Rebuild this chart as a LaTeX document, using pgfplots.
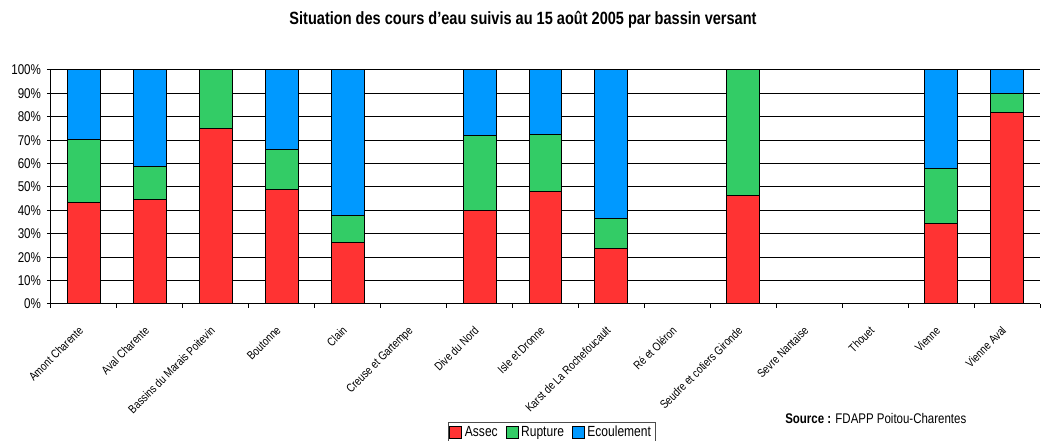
\documentclass[border=0pt]{standalone}
\usepackage{fontspec}
\setmainfont{Liberation Sans}[FakeStretch=0.82]
\usepackage{pgfplots}
\usepackage{pgfplotstable}
\pgfplotsset{compat=1.18}
\definecolor{assec}{RGB}{255,51,51}
\definecolor{rupture}{RGB}{51,204,102}
\definecolor{ecoul}{RGB}{0,153,255}
\pgfplotstableread{
x assec rupture ecoul
0 43.2 27.3 29.5
1 44.7 13.9 41.4
2 75.0 25.0 0
3 48.8 17.1 34.1
4 26.1 11.6 62.3
5 0 0 0
6 40.0 32.2 27.8
7 48.1 24.5 27.4
8 23.7 12.7 63.6
9 0 0 0
10 46.2 53.8 0
11 0 0 0
12 0 0 0
13 34.4 23.5 42.1
14 81.9 8.1 10.0
}\data
\begin{document}
\begin{tikzpicture}[x=1pt,y=1pt]
\begin{axis}[
  scale only axis, width=741.75pt, height=175.5pt,
  at={(0,0)}, anchor=south west,
  ybar stacked, bar width=0.5,
  xmin=-0.5, xmax=14.5, ymin=0, ymax=100,
  axis x line*=bottom, axis y line*=left,
  axis line style={-, black, line width=0.75pt},
  ytick={0,10,...,100},
  yticklabel={\pgfmathprintnumber{\tick}\%},
  /pgf/number format/assume math mode=true,
  yticklabel style={font=\fontsize{10.6}{12}\selectfont, xshift=-1pt},
  ymajorgrids, grid style={black, line width=0.75pt},
  tick align=outside, major tick length=3pt, minor tick length=3pt,
  tick style={black, line width=0.75pt},
  xtick={0,...,14},
  major x tick style={draw=none},
  minor xtick={-0.5,0.5,...,14.5},
  xticklabels={Amont Charente, Aval Charente, Bassins du Marais Poitevin, Boutonne, Clain, Creuse et Gartempe, Dive du Nord, Isle et Dronne, Karst de La Rochefoucault, Ré et Oléron, Seudre et cotiers Gironde, Sevre Nantaise, Thouet, Vienne, Vienne Aval},
  xticklabel style={rotate=45, anchor=north east, font=\fontsize{8.9}{10}\selectfont, yshift=-2.5pt, xshift=-9pt},
  legend style={at={(0.5061,-0.5043)}, anchor=north, legend columns=-1, draw=black!70,
    font=\fontsize{11}{13}\selectfont, inner sep=1pt,
    /tikz/every even column/.append style={column sep=4pt}},
  legend image code/.code={\draw[#1, draw=black, line width=0.6pt] (0pt,-4.5pt) rectangle (9pt,4.5pt);},
  every axis plot/.append style={draw=black, line width=0.75pt},
]
\addplot[fill=assec] table[x=x, y=assec] {\data};
\addplot[fill=rupture] table[x=x, y=rupture] {\data};
\addplot[fill=ecoul] table[x=x, y=ecoul] {\data};
\legend{Assec, Rupture, Ecoulement}
\end{axis}
\node[font=\bfseries\fontsize{13.3}{15}\selectfont] at (354,213) {Situation des cours d'eau suivis au 15 août 2005 par bassin versant};
\node[anchor=west, font=\fontsize{10.5}{12}\selectfont, inner sep=0pt] at (550.5,-85.5) {\textbf{Source :} FDAPP Poitou-Charentes};
\pgfresetboundingbox
\useasboundingbox (-38.25,-102.75) rectangle (742.5,228);
\end{tikzpicture}
\end{document}
